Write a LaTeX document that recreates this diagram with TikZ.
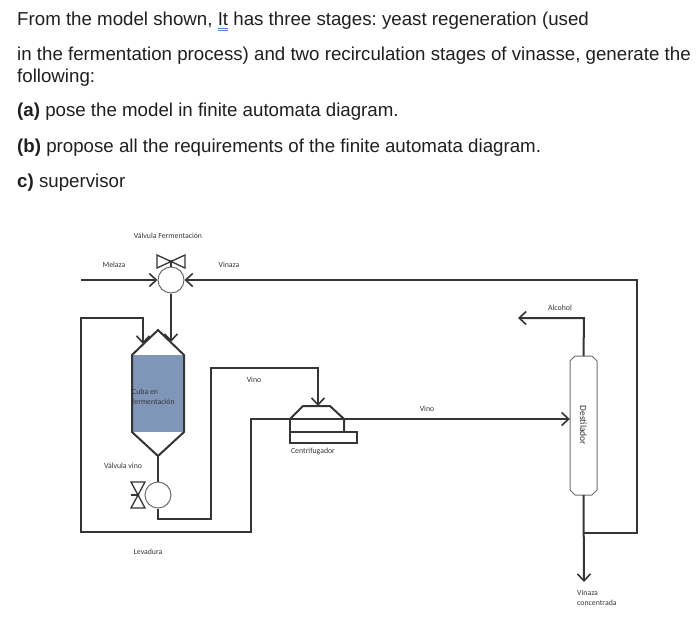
\documentclass[tikz,border=0pt]{standalone}
\usepackage{fontspec}
\setmainfont{Liberation Sans}
\newfontfamily\lblfont{Carlito}
\usetikzlibrary{arrows.meta}
\frenchspacing

\definecolor{pipegray}{HTML}{353535}
\definecolor{rimgray}{HTML}{6E6E6E}
\definecolor{tankblue}{HTML}{8096B9}
\definecolor{markblue}{HTML}{5A7FD0}

\newcommand\spellmark[1]{\setbox0\hbox{#1}%
  \rlap{\color{markblue}\rule[-3pt]{\wd0}{0.6pt}\hspace{-\wd0}\rule[-5pt]{\wd0}{0.6pt}}#1}

\tikzset{
  pipe/.style={draw=pipegray,line width=2pt,line join=miter},
  barb/.tip={Straight Barb[length=7pt,width=13pt,line width=1.6pt]},
  flow/.style={pipe,-barb},
  lbl/.style={text=pipegray,inner sep=0pt,font=\lblfont\fontsize{7.8}{9.5}\selectfont},
  vcirc/.style={circle,draw=rimgray,line width=1pt,fill=white,minimum size=26pt,inner sep=0pt},
  hdr/.style={anchor=base west,inner sep=0pt,text=black!88,font=\fontsize{18.7}{20}\selectfont}
}

\begin{document}
\begin{tikzpicture}[x=1pt,y=-1pt]
  \useasboundingbox (0,0) rectangle (700,624);

  % question text
  \node[hdr] (q1) at (17,25.5) {From the model shown, \spellmark{It} has three stages: yeast regeneration (used};
  \node[hdr] (q2) at (17,60.5) {in the fermentation process) and two recirculation stages of vinasse, generate the};
  \node[hdr] (q3) at (17,82) {following:};
  \node[hdr] (qa) at (17,116) {\textbf{(a)} pose the model in finite automata diagram.};
  \node[hdr] (qb) at (17,152) {\textbf{(b)} propose all the requirements of the finite automata diagram.};
  \node[hdr] (qc) at (17,187) {\textbf{c)} supervisor};

  % tank
  \fill[tankblue] (132,355) rectangle (184,432);
  \draw[pipe] (158,330) -- (184,355) -- (184,432) -- (158,456) -- (132,432) -- (132,355) -- cycle;

  % valves
  \node[vcirc] (fv) at (171,280) {};
  \node[vcirc] (wv) at (158,495) {};
  \draw[pipegray,line width=1.3pt] (157,255) -- (157,268) -- (185,255) -- (185,268) -- cycle;
  \draw[pipegray,line width=1.3pt] (171,261.5) -- (fv.north);
  \fill[pipegray] (171,261.5) circle (1.7);
  \draw[pipegray,line width=1.3pt] (131,482) -- (145,482) -- (131,508) -- (145,508) -- cycle;
  \draw[pipegray,line width=1.3pt] (131,495) -- (138,495);
  \fill[pipegray] (138,495) circle (1.7);

  % centrifuge
  \draw[pipe] (290,419) -- (303,406) -- (330,406) -- (344,419) -- (344,432);
  \draw[pipe] (290,419) -- (290,443) -- (357,443) -- (357,432) -- (290,432);

  % distiller
  \node[minimum width=27pt,minimum height=139pt,inner sep=0pt] (dest) at (583.5,425.5) {};
  \draw[rimgray,line width=1pt] (570,361) -- (575,356) -- (592,356) -- (597,361) -- (597,490)
    -- (592,495) -- (575,495) -- (570,490) -- cycle;
  \node[lbl,rotate=-90,font=\lblfont\fontsize{9.5}{10}\selectfont] at (dest.center) {Destilador};

  % pipes
  \draw[flow] (81,280) -- (fv.west);
  \draw[flow] (584,533) -- (637,533) -- (637,280) -- (fv.east);
  \draw[flow] (fv.south) -- (171,342);
  \draw[pipe,barb-barb] (143,344) -- (143,318) -- (81,318) -- (81,532) -- (251,532) -- (251,419)
    -- (251,419 -| dest.west);
  \draw[pipe] (158,456) -- (wv.north);
  \draw[flow] (wv.south) -- (158,519) -- (211,519) -- (211,368) -- (318,368) -- (318,406);
  \draw[flow] (dest.north) -- (584,318) -- (518,318);
  \draw[flow] (dest.south) -- (584,582);

  % labels
  \node[lbl] at (168,236) {Válvula Fermentación};
  \node[lbl] at (114,265) {Melaza};
  \node[lbl] at (229,265) {Vinaza};
  \node[lbl,anchor=north west,align=left] at (132,389) {Cuba en\\fermentación};
  \node[lbl] at (254,380) {Vino};
  \node[lbl] at (427,409) {Vino};
  \node[lbl] at (313,451) {Centrifugador};
  \node[lbl] at (123,466) {Válvula vino};
  \node[lbl] at (148,552) {Levadura};
  \node[lbl] at (560,308) {Alcohol};
  \node[lbl,anchor=north west,align=left] at (577,590) {Vinaza\\concentrada};
\end{tikzpicture}
\end{document}
